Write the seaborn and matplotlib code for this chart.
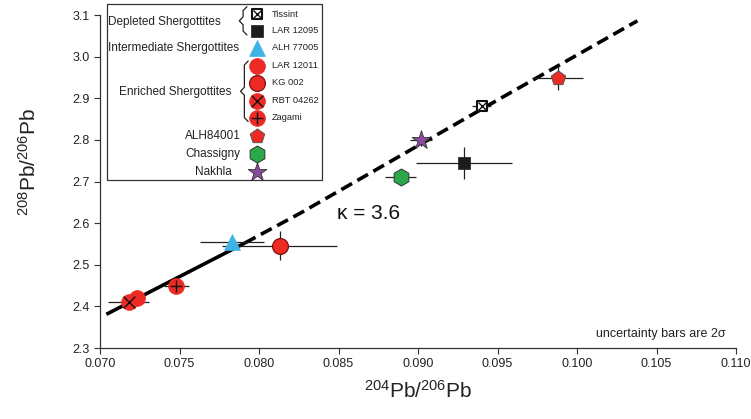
import matplotlib
matplotlib.use("Agg")
import matplotlib.pyplot as plt
import numpy as np
import pandas as pd
import seaborn as sns
from matplotlib.patches import Rectangle
from matplotlib.ticker import FormatStrFormatter

sns.set_style("ticks")
plt.rcParams['font.family'] = ['Liberation Sans', 'DejaVu Sans']
plt.rcParams['mathtext.fontset'] = 'custom'
plt.rcParams['mathtext.rm'] = 'Liberation Sans'
plt.rcParams['mathtext.it'] = 'Liberation Sans:italic'

# data
samples = ["Tissint", "LAR 12095", "ALH 77005", "LAR 12011", "KG 002",
           "RBT 04262", "Zagami", "ALH84001", "Chassigny", "Nakhla"]
pb204_206 = [0.0940, 0.0929, 0.0783, 0.0723, 0.0813, 0.0718, 0.0748, 0.0988, 0.0889, 0.0902]
pb208_206 = [2.882, 2.745, 2.555, 2.420, 2.546, 2.410, 2.450, 2.949, 2.711, 2.800]
err_x = [0.0006, 0.0030, 0.0020, 0.0, 0.0036, 0.0013, 0.0008, 0.0016, 0.0010, 0.0007]
err_y = [0.010, 0.038, 0.0, 0.0, 0.034, 0.0, 0.0, 0.029, 0.020, 0.015]

# kappa = 3.6 curve: solid part, then dashed extension
kappa_x_solid = [0.0704, 0.0791]
kappa_y_solid = [2.381, 2.552]
kappa_x_dash = [0.0791, 0.0826, 0.0952, 0.1038]
kappa_y_dash = [2.552, 2.624, 2.900, 3.086]

RED = '#ee2a24'
styles = {
    "Tissint":   dict(marker='s', s=60, color='white', edgecolor='#111111', lw=1.5, over='x'),
    "LAR 12095": dict(marker='s', s=80, color='#1c1c1c', edgecolor='#1c1c1c', lw=0.5, over=None),
    "ALH 77005": dict(marker='^', s=130, color='#3fb2e6', edgecolor='#3fb2e6', lw=0.5, over=None),
    "LAR 12011": dict(marker='o', s=130, color=RED, edgecolor=RED, lw=0.5, over=None),
    "KG 002":    dict(marker='o', s=130, color=RED, edgecolor='#7a1512', lw=0.9, over=None),
    "RBT 04262": dict(marker='o', s=130, color=RED, edgecolor=RED, lw=0.5, over='x'),
    "Zagami":    dict(marker='o', s=130, color=RED, edgecolor=RED, lw=0.5, over='+'),
    "ALH84001":  dict(marker='p', s=120, color=RED, edgecolor='#555555', lw=0.7, over=None),
    "Chassigny": dict(marker='h', s=150, color='#2ba84a', edgecolor='#333333', lw=0.7, over=None),
    "Nakhla":    dict(marker='*', s=200, color='#8a4b9c', edgecolor='#333333', lw=0.6, over=None),
}

df = pd.DataFrame({"sample": samples, "x": pb204_206, "y": pb208_206,
                   "ex": err_x, "ey": err_y})

fig = plt.figure(figsize=(7.51, 4.19), dpi=100)
ax = fig.add_axes([100 / 751, 71 / 419, 636 / 751, 333 / 419])

ax.plot(kappa_x_solid, kappa_y_solid, color='black', lw=2.6, solid_capstyle='butt', zorder=1)
ax.plot(kappa_x_dash, kappa_y_dash, color='black', lw=2.6, ls=(0, (3.4, 1.7)), zorder=1)

ax.errorbar(df["x"], df["y"], xerr=df["ex"], yerr=df["ey"], fmt='none',
            ecolor='#222222', elinewidth=0.9, capsize=0, zorder=2)

for name, st in styles.items():
    sub = df[df["sample"] == name]
    sns.scatterplot(data=sub, x="x", y="y", marker=st['marker'], s=st['s'],
                    color=st['color'], edgecolor=st['edgecolor'], linewidth=st['lw'],
                    legend=False, ax=ax, zorder=3)
    if st['over']:
        ax.scatter(sub["x"], sub["y"], marker=st['over'], s=st['s'] * 0.55,
                   color='#111111', linewidths=1.0, zorder=4)

ax.set_xlim(0.070, 0.110)
ax.set_ylim(2.3, 3.1)
ax.set_xticks(np.arange(0.070, 0.1101, 0.005))
ax.set_yticks(np.arange(2.3, 3.101, 0.1))
ax.xaxis.set_major_formatter(FormatStrFormatter('%.3f'))
ax.yaxis.set_major_formatter(FormatStrFormatter('%.1f'))
ax.tick_params(direction='out', length=4, width=0.8, labelsize=9,
               color='#333333', labelcolor='#222222')
for sp in ['left', 'bottom']:
    ax.spines[sp].set_color('#333333')
    ax.spines[sp].set_linewidth(0.9)
sns.despine(ax=ax)

ax.set_xlabel(r'$^{204}$Pb/$^{206}$Pb', fontsize=15, color='#222222', labelpad=7)
ax.set_ylabel(r'$^{208}$Pb/$^{206}$Pb', fontsize=15, color='#222222')
ax.yaxis.set_label_coords(-0.095, 0.56)

ax.text(0.0849, 2.61, 'κ = 3.6', fontsize=15, ha='left', va='baseline', color='#111111')
ax.text(0.983, 0.033, 'uncertainty bars are 2σ', transform=ax.transAxes,
        fontsize=9, ha='right', va='baseline', color='#222222')

# hand-made legend box
T = ax.transAxes
ax.add_patch(Rectangle((0.011, 0.505), 0.338, 0.528, transform=T, fill=False,
                       edgecolor='#333333', lw=0.9, clip_on=False, zorder=5))
rows = [1.003, 0.952, 0.901, 0.847, 0.796, 0.742, 0.691, 0.637, 0.583, 0.529]
mx = 0.247
for name, ry in zip(samples, rows):
    st = styles[name]
    ax.scatter([mx], [ry], transform=T, marker=st['marker'], s=st['s'], color=st['color'],
               edgecolor=st['edgecolor'], linewidths=st['lw'], clip_on=False, zorder=6)
    if st['over']:
        ax.scatter([mx], [ry], transform=T, marker=st['over'], s=st['s'] * 0.55,
                   color='#111111', linewidths=1.0, clip_on=False, zorder=7)
    if name in ("ALH84001", "Chassigny", "Nakhla"):
        ax.text(0.178, ry, name, transform=T, fontsize=8.5, ha='center', va='center',
                color='#222222')
    else:
        ax.text(0.270, ry, name, transform=T, fontsize=6.7, ha='left', va='center',
                color='#222222')

ax.text(0.102, (rows[0] + rows[1]) / 2, 'Depleted Shergottites', transform=T,
        fontsize=8.5, ha='center', va='center', color='#222222')
ax.text(0.116, rows[2], 'Intermediate Shergottites', transform=T,
        fontsize=8.5, ha='center', va='center', color='#222222')
ax.text(0.118, (rows[3] + rows[6]) / 2, 'Enriched Shergottites', transform=T,
        fontsize=8.5, ha='center', va='center', color='#222222')


def brace(x, top, bot):
    mid = (top + bot) / 2
    d, h = 0.006, 0.012
    bx = [x + d, x, x, x - d, x, x, x + d]
    by = [top, top - h, mid + h, mid, mid - h, bot + h, bot]
    ax.plot(bx, by, transform=T, color='#222222', lw=0.9, clip_on=False, zorder=6)


brace(0.225, 1.025, 0.940)
brace(0.227, 0.862, 0.680)

fig.savefig('out.png', dpi=100)
